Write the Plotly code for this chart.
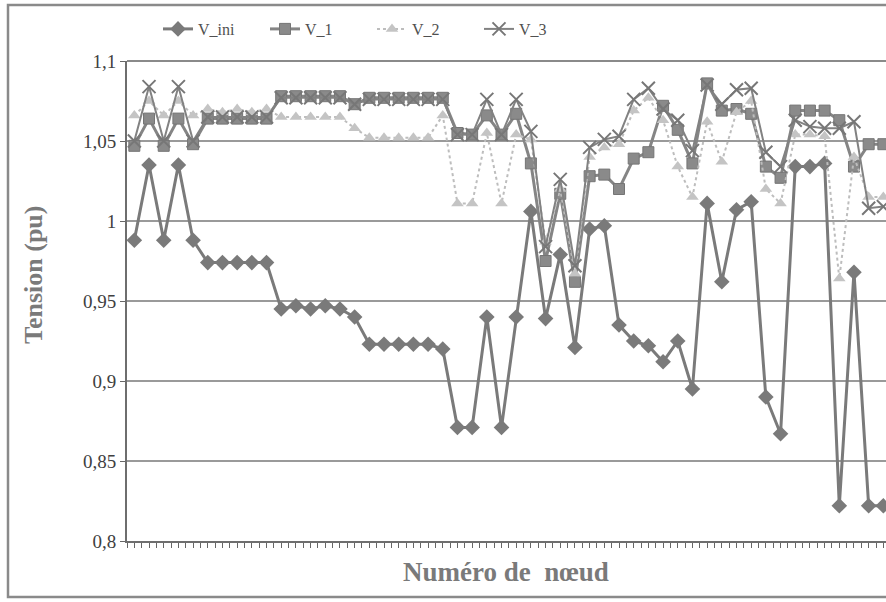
import plotly.graph_objects as go

nodes = list(range(1, 53))

V_ini = [0.988, 1.035, 0.988, 1.035, 0.988, 0.974, 0.974, 0.974, 0.974, 0.974,
         0.945, 0.947, 0.945, 0.947, 0.945, 0.940, 0.923, 0.923, 0.923, 0.923,
         0.923, 0.920, 0.871, 0.871, 0.940, 0.871, 0.940, 1.006, 0.939, 0.979,
         0.921, 0.995, 0.997, 0.935, 0.925, 0.922, 0.912, 0.925, 0.895, 1.011,
         0.962, 1.007, 1.012, 0.890, 0.867, 1.034, 1.034, 1.036, 0.822, 0.968,
         0.822, 0.822]

V_1 = [1.047, 1.064, 1.047, 1.064, 1.048, 1.064, 1.064, 1.064, 1.064, 1.064,
       1.078, 1.078, 1.078, 1.078, 1.078, 1.073, 1.077, 1.077, 1.077, 1.077,
       1.077, 1.077, 1.055, 1.054, 1.066, 1.054, 1.067, 1.036, 0.975, 1.017,
       0.962, 1.028, 1.029, 1.020, 1.039, 1.043, 1.072, 1.057, 1.036, 1.086,
       1.069, 1.070, 1.067, 1.034, 1.027, 1.069, 1.069, 1.069, 1.063, 1.034,
       1.048, 1.048]

V_2 = [1.066, 1.075, 1.066, 1.075, 1.066, 1.070, 1.068, 1.070, 1.068, 1.070,
       1.065, 1.065, 1.065, 1.065, 1.065, 1.058, 1.052, 1.052, 1.052, 1.052,
       1.052, 1.066, 1.011, 1.011, 1.055, 1.011, 1.054, 1.051, 0.987, 1.020,
       0.967, 1.040, 1.046, 1.048, 1.069, 1.077, 1.063, 1.034, 1.015, 1.062,
       1.037, 1.068, 1.075, 1.020, 1.011, 1.054, 1.054, 1.053, 0.964, 1.040,
       1.015, 1.015]

V_3 = [1.050, 1.084, 1.050, 1.084, 1.050, 1.065, 1.065, 1.065, 1.065, 1.065,
       1.077, 1.077, 1.077, 1.077, 1.077, 1.073, 1.076, 1.076, 1.076, 1.076,
       1.076, 1.076, 1.054, 1.054, 1.076, 1.054, 1.076, 1.056, 0.984, 1.026,
       0.972, 1.046, 1.051, 1.053, 1.076, 1.083, 1.070, 1.063, 1.044, 1.085,
       1.073, 1.082, 1.083, 1.043, 1.034, 1.063, 1.059, 1.058, 1.058, 1.062,
       1.008, 1.009]

y_ticks = [0.8, 0.85, 0.9, 0.95, 1.0, 1.05, 1.1]
y_ticktext = ["0,8", "0,85", "0,9", "0,95", "1", "1,05", "1,1"]

FONT = "Liberation Serif"

fig = go.Figure()
fig.add_trace(go.Scatter(
    x=nodes, y=V_ini, name="V_ini", mode="lines+markers",
    line=dict(color="#7a7a7a", width=3),
    marker=dict(symbol="diamond", size=12, color="#7a7a7a")))
fig.add_trace(go.Scatter(
    x=nodes, y=V_1, name="V_1", mode="lines+markers",
    line=dict(color="#858585", width=3),
    marker=dict(symbol="square", size=11, color="#8a8a8a",
                line=dict(color="#757575", width=1))))
fig.add_trace(go.Scatter(
    x=nodes, y=V_2, name="V_2", mode="lines+markers",
    line=dict(color="#bdbdbd", width=2, dash="dot"),
    marker=dict(symbol="triangle-up", size=11, color="#c4c4c4")))
fig.add_trace(go.Scatter(
    x=nodes, y=V_3, name="V_3", mode="lines+markers",
    line=dict(color="#828282", width=2),
    marker=dict(symbol="x-thin", size=13, color="#777777",
                line=dict(color="#777777", width=2))))

# plot area geometry: left 127, right 886, top 61, bottom 541
PW = 886 - 127
PH = 541 - 61

def px_x(p):
    return (p - 127) / PW

def px_y(p):
    return (541 - p) / PH

fig.update_layout(
    width=886, height=602,
    margin=dict(l=127, r=0, t=61, b=61),
    paper_bgcolor="white", plot_bgcolor="white",
    font=dict(family=FONT, color="#505050"),
    showlegend=True,
    legend=dict(orientation="h", x=px_x(158), y=px_y(29), xanchor="left",
                yanchor="middle", entrywidth=62, entrywidthmode="pixels",
                font=dict(family=FONT, size=16, color="#505050"),
                bgcolor="rgba(0,0,0,0)", itemclick=False),
    xaxis=dict(range=[0.5, 52.18], showgrid=False, zeroline=False,
               showticklabels=False, ticks="outside", ticklen=5,
               tickwidth=1, tickcolor="#666666", tick0=0.5, dtick=0.5,
               showline=True, linecolor="#6e6e6e", linewidth=2),
    yaxis=dict(range=[0.8, 1.1], tickvals=y_ticks, ticktext=y_ticktext,
               showgrid=True, gridcolor="#9a9a9a", gridwidth=1.5,
               zeroline=False, ticks="outside", ticklen=5, tickcolor="#666666",
               showline=True, linecolor="#6e6e6e", linewidth=2,
               tickfont=dict(family=FONT, size=19, color="#404040")),
    shapes=[
        dict(type="line", xref="paper", yref="paper", x0=0, x1=1.01,
             y0=1, y1=1, line=dict(color="#8a8a8a", width=2)),
        dict(type="rect", xref="paper", yref="paper",
             x0=px_x(8), x1=px_x(900), y0=px_y(597), y1=px_y(5),
             line=dict(color="#8a8a8a", width=2.5)),
    ],
    annotations=[
        dict(text="<b>Numéro de \u00a0nœud</b>", xref="paper", yref="paper",
             x=px_x(506), y=px_y(572), xanchor="center", yanchor="middle",
             showarrow=False, font=dict(family=FONT, size=27, color="#7a7a7a")),
        dict(text="<b>Tension (pu)</b>", xref="paper", yref="paper",
             x=px_x(33), y=px_y(275), xanchor="center", yanchor="middle",
             textangle=-90, showarrow=False,
             font=dict(family=FONT, size=26, color="#7a7a7a")),
    ],
)

fig.write_html(
    "out.html",
    config={"displayModeBar": False},
    post_script="document.body.style.margin='0';document.body.style.overflow='hidden';",
)
